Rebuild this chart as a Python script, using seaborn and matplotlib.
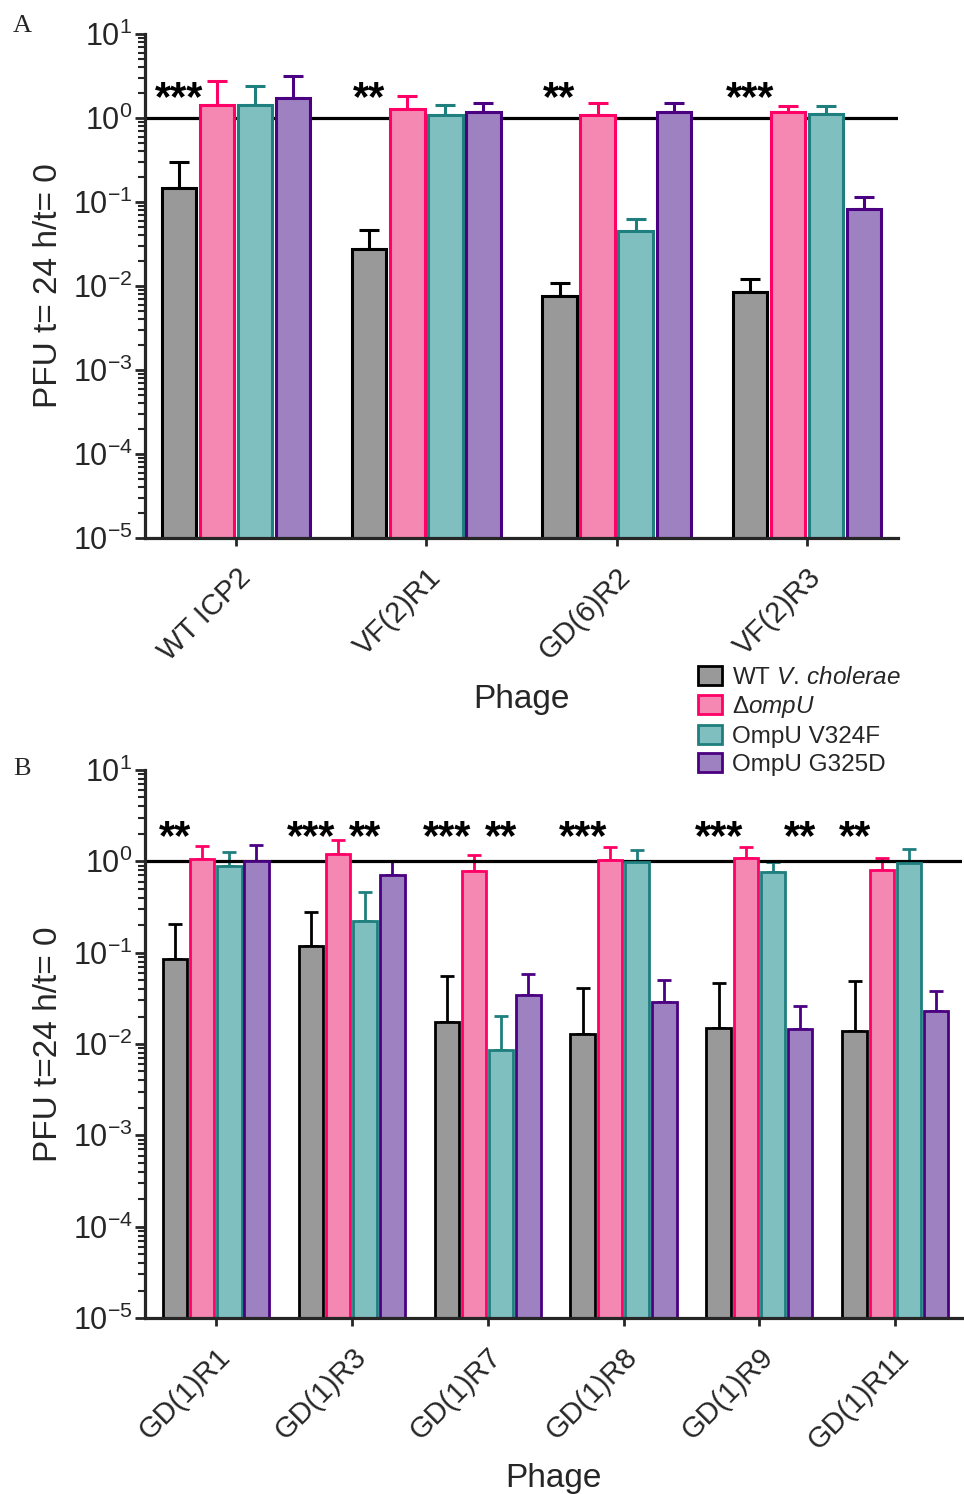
import numpy as np
import pandas as pd
import matplotlib
matplotlib.use("Agg")
import matplotlib.pyplot as plt
import seaborn as sns
from matplotlib.ticker import LogLocator, NullFormatter, FixedLocator
from matplotlib.patches import Patch

# ---------------- data ----------------
strains = ["WT V. cholerae", "ΔompU", "OmpU V324F", "OmpU G325D"]
legend_labels = ["WT $\\mathit{V.\\,cholerae}$", "Δ$\\mathit{ompU}$", "OmpU V324F", "OmpU G325D"]
fill_colors = ["#999999", "#F588B2", "#80BFBF", "#9D81C0"]
edge_colors = ["#000000", "#FF0066", "#1F7F7F", "#4B0082"]

phages_a = ["WT ICP2", "VF(2)R1", "GD(6)R2", "VF(2)R3"]
a_wt = [0.147, 0.0275, 0.0076, 0.0085]
a_dompu = [1.43, 1.28, 1.09, 1.18]
a_v324f = [1.43, 1.09, 0.045, 1.12]
a_g325d = [1.73, 1.18, 1.18, 0.083]
a_wt_hi = [0.30, 0.047, 0.011, 0.012]
a_dompu_hi = [2.76, 1.83, 1.50, 1.39]
a_v324f_hi = [2.40, 1.43, 0.063, 1.39]
a_g325d_hi = [3.16, 1.50, 1.50, 0.115]
a_stars = [(0, 0, "***"), (1, 0, "**"), (2, 0, "**"), (3, 0, "***")]

phages_b = ["GD(1)R1", "GD(1)R3", "GD(1)R7", "GD(1)R8", "GD(1)R9", "GD(1)R11"]
b_wt = [0.085, 0.117, 0.0173, 0.013, 0.0148, 0.0138]
b_dompu = [1.05, 1.19, 0.78, 1.03, 1.10, 0.80]
b_v324f = [0.90, 0.22, 0.0087, 0.98, 0.76, 0.95]
b_g325d = [1.00, 0.70, 0.034, 0.029, 0.0145, 0.023]
b_wt_hi = [0.204, 0.276, 0.055, 0.041, 0.046, 0.049]
b_dompu_hi = [1.46, 1.70, 1.16, 1.42, 1.42, 1.08]
b_v324f_hi = [1.25, 0.46, 0.0205, 1.32, 0.99, 1.35]
b_g325d_hi = [1.50, 1.00, 0.058, 0.050, 0.026, 0.038]
b_stars = [(0, 0, "**"), (1, 0, "***"), (1, 2, "**"), (2, 0, "***"), (2, 2, "**"),
           (3, 0, "***"), (4, 0, "***"), (4, 3, "**"), (5, 0, "**")]

yticks = [1e-5, 1e-4, 1e-3, 1e-2, 1e-1, 1e0, 1e1]

# ---------------- style ----------------
sns.set_style("ticks")
plt.rcParams["font.family"] = ["Liberation Sans", "DejaVu Sans"]
plt.rcParams["mathtext.fontset"] = "custom"
plt.rcParams["mathtext.rm"] = "Liberation Sans"
plt.rcParams["mathtext.it"] = "Liberation Sans:italic"
plt.rcParams["mathtext.bf"] = "Liberation Sans:bold"
plt.rcParams["axes.unicode_minus"] = False

fig = plt.figure(figsize=(9.64, 14.94), dpi=100)
W, H = 964, 1494


def px_axes(left, top, right, bottom):
    return fig.add_axes([left / W, 1 - bottom / H, (right - left) / W, (bottom - top) / H])


def draw_panel(ax, phages, means, highs, stars, ylabel, lw, capsize, star_y, xlabelpad):
    rows = []
    for s, vals in zip(strains, means):
        for p, v in zip(phages, vals):
            rows.append({"Phage": p, "Strain": s, "value": v})
    df = pd.DataFrame(rows)
    sns.barplot(data=df, x="Phage", y="value", hue="Strain", order=phages,
                hue_order=strains, palette=fill_colors, saturation=1,
                errorbar=None, gap=0.1, width=0.8, legend=False, ax=ax, zorder=2)
    ax.set_yscale("log")
    bar_conts = list(ax.containers)
    for i, cont in enumerate(bar_conts):
        for j, patch in enumerate(cont.patches):
            patch.set_edgecolor(edge_colors[i])
            patch.set_linewidth(lw)
            x = patch.get_x() + patch.get_width() / 2
            y = means[i][j]
            hi = highs[i][j]
            ax.errorbar([x], [y], yerr=[[0], [hi - y]], fmt="none",
                        ecolor=edge_colors[i], elinewidth=lw, capsize=capsize,
                        capthick=lw, zorder=1.5)
    for (pj, si, txt) in stars:
        patch = bar_conts[si].patches[pj]
        x = patch.get_x() + patch.get_width() / 2
        ax.text(x, star_y, txt, ha="center", va="center", fontsize=30,
                fontweight="bold", color="black", zorder=5)
    ax.axhline(1.0, color="black", lw=2.3, zorder=1.8)
    ax.set_ylim(1e-5, 10)
    ax.yaxis.set_major_locator(FixedLocator(yticks))
    ax.yaxis.set_minor_locator(LogLocator(base=10, subs=np.arange(2, 10), numticks=30))
    ax.yaxis.set_minor_formatter(NullFormatter())
    ax.set_ylabel(ylabel, fontsize=24, labelpad=6)
    ax.set_xlabel("Phage", fontsize=24, labelpad=xlabelpad)
    ax.tick_params(axis="y", which="major", length=7, width=2, labelsize=22, pad=2)
    ax.tick_params(axis="y", which="minor", length=5, width=1.5)
    ax.tick_params(axis="x", which="major", length=6, width=2, labelsize=21, pad=12)
    for lab in ax.get_xticklabels():
        lab.set_rotation(45)
        lab.set_ha("right")
        lab.set_rotation_mode("anchor")
    for side in ["top", "right"]:
        ax.spines[side].set_visible(False)
    for side in ["left", "bottom"]:
        ax.spines[side].set_linewidth(2.3)
        ax.spines[side].set_zorder(3)


axA = px_axes(145, 34, 898, 538)
draw_panel(axA, phages_a, [a_wt, a_dompu, a_v324f, a_g325d],
           [a_wt_hi, a_dompu_hi, a_v324f_hi, a_g325d_hi], a_stars,
           "PFU t= 24 h/t= 0", 2.2, 7, 1.68, 13)
axA.set_xlim(-0.48, 3.48)

axB = px_axes(145, 770, 962, 1318)
draw_panel(axB, phages_b, [b_wt, b_dompu, b_v324f, b_g325d],
           [b_wt_hi, b_dompu_hi, b_v324f_hi, b_g325d_hi], b_stars,
           "PFU t=24 h/t= 0", 2.0, 5, 1.79, 6)
axB.set_xlim(-0.52, 5.49)

fig.text(22 / W, 1 - 26 / H, "A", fontsize=19, family="Liberation Serif", ha="center", va="center")
fig.text(22 / W, 1 - 769 / H, "B", fontsize=19, family="Liberation Serif", ha="center", va="center")

handles = [Patch(facecolor=f, edgecolor=e, linewidth=2) for f, e in zip(fill_colors, edge_colors)]
fig.legend(handles=handles, labels=legend_labels, loc="upper left",
           bbox_to_anchor=(698 / W, 1 - 666 / H), frameon=False, fontsize=17.5,
           handlelength=1.0, handleheight=0.85, handletextpad=0.4,
           labelspacing=0.2, borderpad=0, borderaxespad=0)

fig.savefig("out.png", dpi=100)
